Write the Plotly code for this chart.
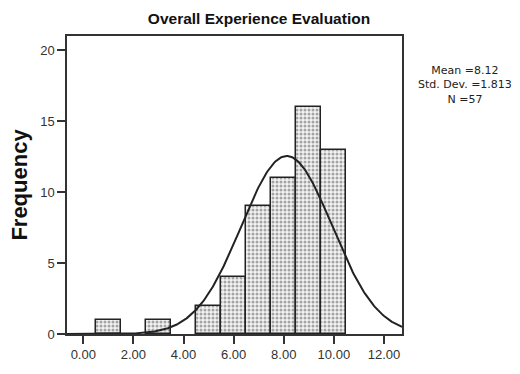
import numpy as np
import plotly.graph_objects as go

bin_centers = [1, 3, 5, 6, 7, 8, 9, 10]
counts = [1, 1, 2, 4, 9, 11, 16, 13]
mean_val = 8.12
sd_val = 1.813
n_val = 57
bin_width = 1.0
x_ticks = [0, 2, 4, 6, 8, 10, 12]
x_tick_labels = ["0.00", "2.00", "4.00", "6.00", "8.00", "10.00", "12.00"]
y_ticks = [0, 5, 10, 15, 20]

xr = [-0.65, 12.72]
xs = np.linspace(xr[0], xr[1], 300)
ys = n_val * bin_width * np.exp(-0.5 * ((xs - mean_val) / sd_val) ** 2) / (sd_val * np.sqrt(2 * np.pi))

fig = go.Figure()
fig.add_trace(go.Bar(
    x=bin_centers, y=counts, width=bin_width,
    marker=dict(color="white", line=dict(color="#222", width=1.5),
                pattern=dict(shape=".", fgcolor="#555", bgcolor="#f2f2f2", size=4, solidity=0.45)),
    showlegend=False,
))
fig.add_trace(go.Scatter(x=xs, y=ys, mode="lines", line=dict(color="#222", width=2), showlegend=False))

font = "Liberation Sans, Arial, sans-serif"
fig.update_layout(
    width=520, height=374,
    margin=dict(l=67, r=118, t=36, b=31),
    paper_bgcolor="white", plot_bgcolor="white",
    title=dict(text="<b>Overall Experience Evaluation</b>", x=259/520, xanchor="center",
               y=1 - 19/374, yanchor="middle", font=dict(family=font, size=15.5, color="#111")),
    xaxis=dict(range=xr, tickvals=x_ticks, ticktext=x_tick_labels, ticks="outside", ticklen=8,
               tickcolor="#333", tickwidth=1.5, showline=True, linecolor="#333", linewidth=1.5, mirror=True,
               showgrid=False, zeroline=False, tickfont=dict(family=font, size=13, color="#333")),
    yaxis=dict(range=[0, 21], tickvals=y_ticks, ticks="outside", ticklen=8, tickcolor="#333", tickwidth=1.5,
               showline=True, linecolor="#333", linewidth=1.5, mirror=True, showgrid=False, zeroline=False,
               tickfont=dict(family=font, size=13, color="#333"),
               title=dict(text="<b>Frequency</b>", font=dict(family=font, size=22, color="#111"), standoff=6)),
    annotations=[dict(text="Mean =8.12<br>Std. Dev. =1.813<br>N =57", xref="paper", yref="paper",
                      x=1 + (465 - 402) / 335, y=1 - (86 - 36) / 307, xanchor="center", yanchor="middle",
                      showarrow=False, align="center", font=dict(family="DejaVu Sans", size=11, color="#222"))],
    bargap=0,
)
fig.write_html("out.html")
